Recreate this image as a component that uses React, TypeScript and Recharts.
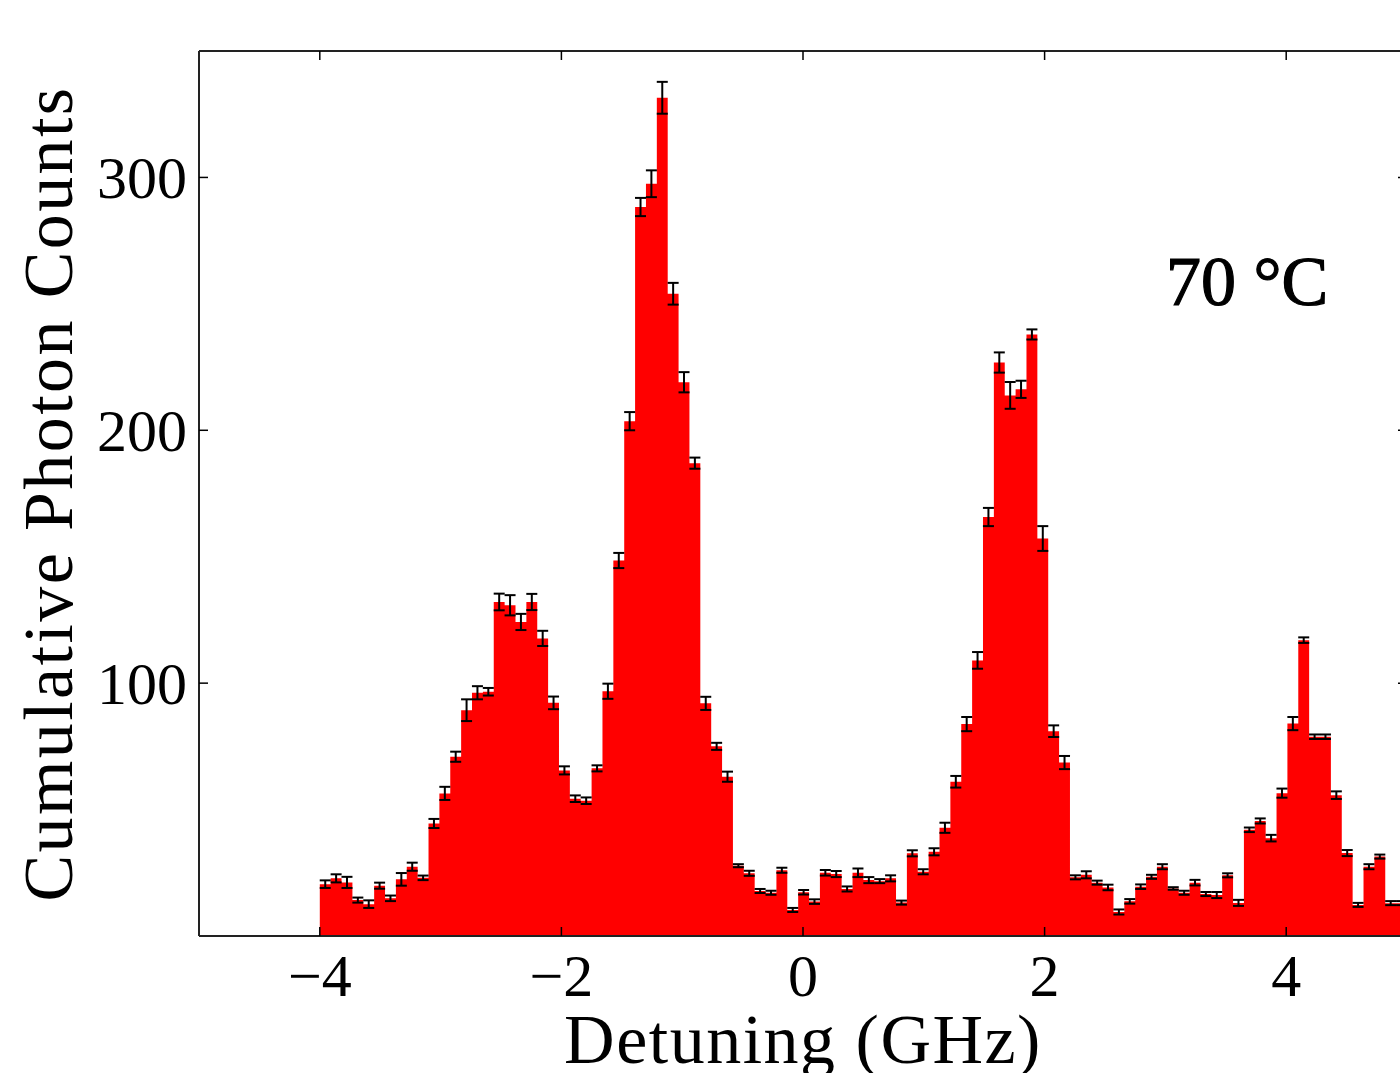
import { ComposedChart, Area, Scatter, ErrorBar, XAxis, YAxis } from "recharts";

// histogram bins: 100 bins of 0.09 GHz starting at -4 GHz
const BIN_START = -4;
const BIN_WIDTH = 0.09;

const counts = [
  20.5, 22.8, 21.2, 14.2, 12.6, 19.9, 14.9, 22.4, 27.4, 23.0,
  44.5, 56.4, 70.9, 89.3, 96.2, 96.6, 132.1, 130.8, 124.2, 132.1,
  117.7, 92.2, 65.5, 54.3, 53.5, 66.3, 96.8, 148.5, 203.6, 288.3,
  297.5, 331.5, 254.0, 219.0, 187.0, 92.0, 75.0, 63.0, 27.8, 24.8,
  17.8, 17.1, 26.0, 10.3, 17.3, 13.6, 25.0, 24.5, 18.6, 25.0,
  22.1, 21.7, 22.8, 13.2, 32.7, 25.4, 33.3, 42.8, 61.0, 83.8,
  109.0, 165.7, 226.8, 213.8, 216.2, 237.9, 157.2, 81.0, 68.6, 23.2,
  24.2, 21.1, 19.2, 9.5, 13.7, 19.5, 23.4, 27.4, 18.8, 17.1,
  21.1, 16.6, 16.2, 24.0, 13.1, 42.0, 45.5, 38.7, 56.5, 84.0,
  117.0, 78.8, 78.8, 55.7, 32.8, 12.3, 27.4, 31.4, 13.0, 13.0,
];

const errors = [
  1.5, 1.6, 2.2, 1.0, 1.5, 1.2, 1.1, 2.5, 1.6, 0.9,
  1.8, 2.6, 2.0, 4.3, 2.6, 1.5, 3.3, 4.0, 3.2, 3.2,
  3.0, 2.5, 1.6, 1.3, 1.3, 1.2, 3.0, 3.0, 3.6, 3.6,
  5.3, 6.3, 4.3, 4.0, 2.2, 2.6, 1.4, 2.0, 0.6, 1.0,
  0.8, 0.8, 1.0, 0.8, 0.9, 0.9, 1.1, 1.2, 1.0, 1.7,
  1.2, 0.8, 1.2, 0.8, 1.2, 1.0, 1.4, 2.0, 2.3, 2.8,
  3.3, 3.6, 4.0, 5.3, 3.4, 2.0, 4.9, 2.3, 2.6, 0.8,
  1.4, 0.8, 1.1, 1.0, 0.9, 0.9, 0.8, 1.0, 0.5, 0.8,
  1.1, 0.8, 1.2, 0.8, 1.2, 0.9, 1.0, 1.3, 1.8, 2.6,
  1.1, 0.9, 0.9, 1.5, 1.2, 0.8, 1.0, 0.8, 0.8, 0.8,
];

const xTicks = [-4, -2, 0, 2, 4];
const yTicks = [100, 200, 300];

const FONT = "'Liberation Serif', 'DejaVu Serif', serif";
const RED = "#ff0000";
const INK = "#000000";
const SPINE = "#222222";
const TICK_LEN = 9;

// step outline rows (left edge of each bin, plus the closing right edge)
const edgeRows = counts.map((c, i) => ({ x: BIN_START + i * BIN_WIDTH, count: c }));
edgeRows.push({
  x: BIN_START + counts.length * BIN_WIDTH,
  count: counts[counts.length - 1],
});

// error bars sit at the bin centres
const centerRows = counts.map((c, i) => ({
  x: BIN_START + (i + 0.5) * BIN_WIDTH,
  count: c,
  err: errors[i],
}));

const fmt = (v: number) => (v < 0 ? `\u2212${Math.abs(v)}` : `${v}`);

// ticks point inward on all four sides, like matplotlib's classic style
function BottomTick({ x, y, payload }: any) {
  return (
    <g>
      <line x1={x} x2={x} y1={y} y2={y - TICK_LEN} stroke={INK} strokeWidth={1.5} />
      <text x={x} y={y + 60} textAnchor="middle" fontFamily={FONT} fontSize={60} fill={INK}>
        {fmt(payload.value)}
      </text>
    </g>
  );
}

function TopTick({ x, y }: any) {
  return <line x1={x} x2={x} y1={y} y2={y + TICK_LEN} stroke={INK} strokeWidth={1.5} />;
}

function LeftTick({ x, y, payload }: any) {
  return (
    <g>
      <line x1={x} x2={x + TICK_LEN} y1={y} y2={y} stroke={INK} strokeWidth={1.5} />
      <text x={x - 12} y={y + 21} textAnchor="end" fontFamily={FONT} fontSize={60} fill={INK}>
        {fmt(payload.value)}
      </text>
    </g>
  );
}

function RightTick({ x, y }: any) {
  return <line x1={x} x2={x - TICK_LEN} y1={y} y2={y} stroke={INK} strokeWidth={1.5} />;
}

function HiddenPoint() {
  return <g />;
}

export default function App() {
  return (
    <div
      style={{
        position: "absolute",
        left: 0,
        top: 0,
        width: 1400,
        height: 1073,
        overflow: "hidden",
        background: "#fff",
      }}
    >
      <ComposedChart
        width={1420}
        height={1073}
        data={edgeRows}
        margin={{ top: 50, right: 12, bottom: 0, left: 0 }}
      >
        <Area
          type="stepAfter"
          dataKey="count"
          fill={RED}
          fillOpacity={1}
          stroke="none"
          dot={false}
          activeDot={false}
          isAnimationActive={false}
        />
        <Scatter
          data={centerRows}
          dataKey="count"
          shape={HiddenPoint}
          isAnimationActive={false}
        >
          <ErrorBar dataKey="err" direction="y" width={5.5} stroke={INK} strokeWidth={2} />
        </Scatter>
        <XAxis
          dataKey="x"
          type="number"
          domain={[-5, 5]}
          allowDataOverflow
          ticks={xTicks}
          interval={0}
          height={137}
          tickSize={0}
          tickMargin={0}
          tickLine={false}
          axisLine={{ stroke: SPINE, strokeWidth: 2 }}
          tick={BottomTick}
          label={{
            value: "Detuning (GHz)",
            position: "insideBottom",
            offset: 10,
            fontSize: 70,
            fontFamily: FONT,
            fill: INK,
            letterSpacing: 1.5,
          }}
        />
        <XAxis
          xAxisId="top"
          orientation="top"
          dataKey="x"
          type="number"
          domain={[-5, 5]}
          allowDataOverflow
          ticks={xTicks}
          interval={0}
          height={1}
          tickSize={0}
          tickMargin={0}
          tickLine={false}
          axisLine={{ stroke: SPINE, strokeWidth: 2 }}
          tick={TopTick}
        />
        <YAxis
          type="number"
          domain={[0, 350]}
          allowDataOverflow
          ticks={yTicks}
          interval={0}
          width={199}
          tickSize={0}
          tickMargin={0}
          tickLine={false}
          axisLine={{ stroke: SPINE, strokeWidth: 2 }}
          tick={LeftTick}
          label={{
            value: "Cumulative Photon Counts",
            angle: -90,
            position: "insideLeft",
            offset: 47,
            fontSize: 70,
            fontFamily: FONT,
            fill: INK,
            letterSpacing: 2.4,
            style: { textAnchor: "middle" },
          }}
        />
        <YAxis
          yAxisId="right"
          orientation="right"
          type="number"
          domain={[0, 350]}
          allowDataOverflow
          ticks={yTicks}
          interval={0}
          width={1}
          tickSize={0}
          tickMargin={0}
          tickLine={false}
          axisLine={{ stroke: SPINE, strokeWidth: 2 }}
          tick={RightTick}
        />
      </ComposedChart>
      <svg
        width={1400}
        height={1073}
        style={{ position: "absolute", left: 0, top: 0, pointerEvents: "none" }}
      >
        <text
          x={1166}
          y={305}
          fontFamily={FONT}
          fontSize={70}
          fill={INK}
          stroke={INK}
          strokeWidth={1.2}
        >
          70 °C
        </text>
      </svg>
    </div>
  );
}
